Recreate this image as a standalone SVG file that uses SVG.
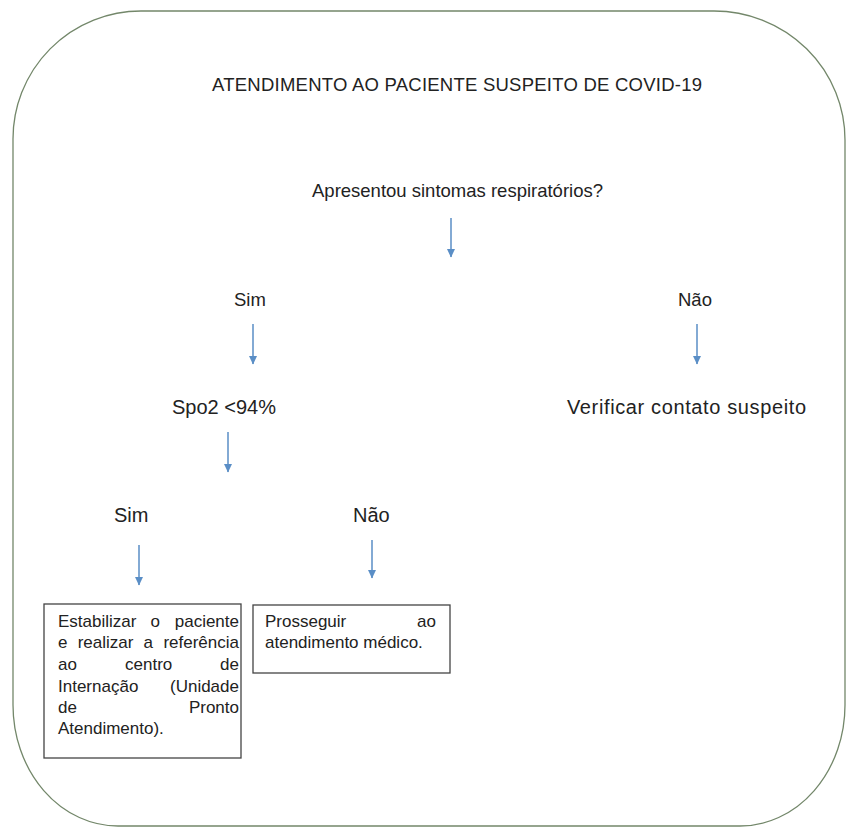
<svg xmlns="http://www.w3.org/2000/svg" width="846" height="828" viewBox="0 0 846 828">
<style>
text{font-family:"Liberation Sans",Arial,sans-serif;fill:#222;}
.lbl{font-size:18.5px;}
.big{font-size:20px;}
.bx{font-size:17px;}
.box{fill:#fff;stroke:#444;stroke-width:1.3;}
.arr{stroke:#5a8ec6;stroke-width:1.5;fill:none;}
</style>
<defs>
<marker id="ah" markerWidth="9" markerHeight="9" refX="8" refY="4.5" orient="auto" markerUnits="userSpaceOnUse" viewBox="0 0 9 9">
<path d="M0,0.5 L8.5,4.5 L0,8.5 Z" fill="#5a8ec6"/>
</marker>
</defs>
<rect width="846" height="828" fill="#fff"/>
<g id="frame">
<path d="M13,140 A128,128 0 0 1 141,11 L714,11 A131,129 0 0 1 845,140 L845,705 A105,121 0 0 1 740,826 L118,826 A105,121 0 0 1 13,705 Z" fill="none" stroke="#73876a" stroke-width="1.3"/>
</g>
<g id="title"><text class="lbl" x="212" y="91" textLength="490">ATENDIMENTO AO PACIENTE SUSPEITO DE COVID-19</text></g>
<g id="q1"><text class="lbl" x="312" y="197">Apresentou sintomas respiratórios?</text></g>
<g id="sim1"><text class="lbl" x="234" y="306">Sim</text></g>
<g id="nao1"><text class="lbl" x="678" y="306">Não</text></g>
<g id="spo2"><text class="big" x="172" y="414">Spo2 &lt;94%</text></g>
<g id="verificar"><text class="big" x="567" y="414" textLength="239">Verificar contato suspeito</text></g>
<g id="sim2"><text class="big" x="114" y="522">Sim</text></g>
<g id="nao2"><text class="big" x="353" y="522">Não</text></g>
<g id="box1">
<rect class="box" x="44" y="604" width="197" height="154"/>
<text class="bx" y="627"><tspan x="58">Estabilizar</tspan><tspan x="150.5">o</tspan><tspan x="239" text-anchor="end">paciente</tspan></text>
<text class="bx" y="648"><tspan x="58">e</tspan><tspan x="77.7">realizar</tspan><tspan x="143.6">a</tspan><tspan x="239" text-anchor="end">referência</tspan></text>
<text class="bx" y="670"><tspan x="58">ao</tspan><tspan x="125">centro</tspan><tspan x="239" text-anchor="end">de</tspan></text>
<text class="bx" y="692"><tspan x="58">Internação</tspan><tspan x="239" text-anchor="end">(Unidade</tspan></text>
<text class="bx" y="713"><tspan x="58">de</tspan><tspan x="239" text-anchor="end">Pronto</tspan></text>
<text class="bx" y="734"><tspan x="58">Atendimento).</tspan></text>
</g>
<g id="box2">
<rect class="box" x="253" y="605" width="197" height="68"/>
<text class="bx" y="627"><tspan x="265">Prosseguir</tspan><tspan x="436" text-anchor="end">ao</tspan></text>
<text class="bx" y="648"><tspan x="265">atendimento médico.</tspan></text>
</g>
<g id="connectors">
<line class="arr" x1="451" y1="218" x2="451" y2="257" marker-end="url(#ah)"/>
<line class="arr" x1="253" y1="324" x2="253" y2="364" marker-end="url(#ah)"/>
<line class="arr" x1="697" y1="324" x2="697" y2="364" marker-end="url(#ah)"/>
<line class="arr" x1="228" y1="432" x2="228" y2="472" marker-end="url(#ah)"/>
<line class="arr" x1="139" y1="545" x2="139" y2="585" marker-end="url(#ah)"/>
<line class="arr" x1="372" y1="540" x2="372" y2="578" marker-end="url(#ah)"/>
</g>
</svg>
